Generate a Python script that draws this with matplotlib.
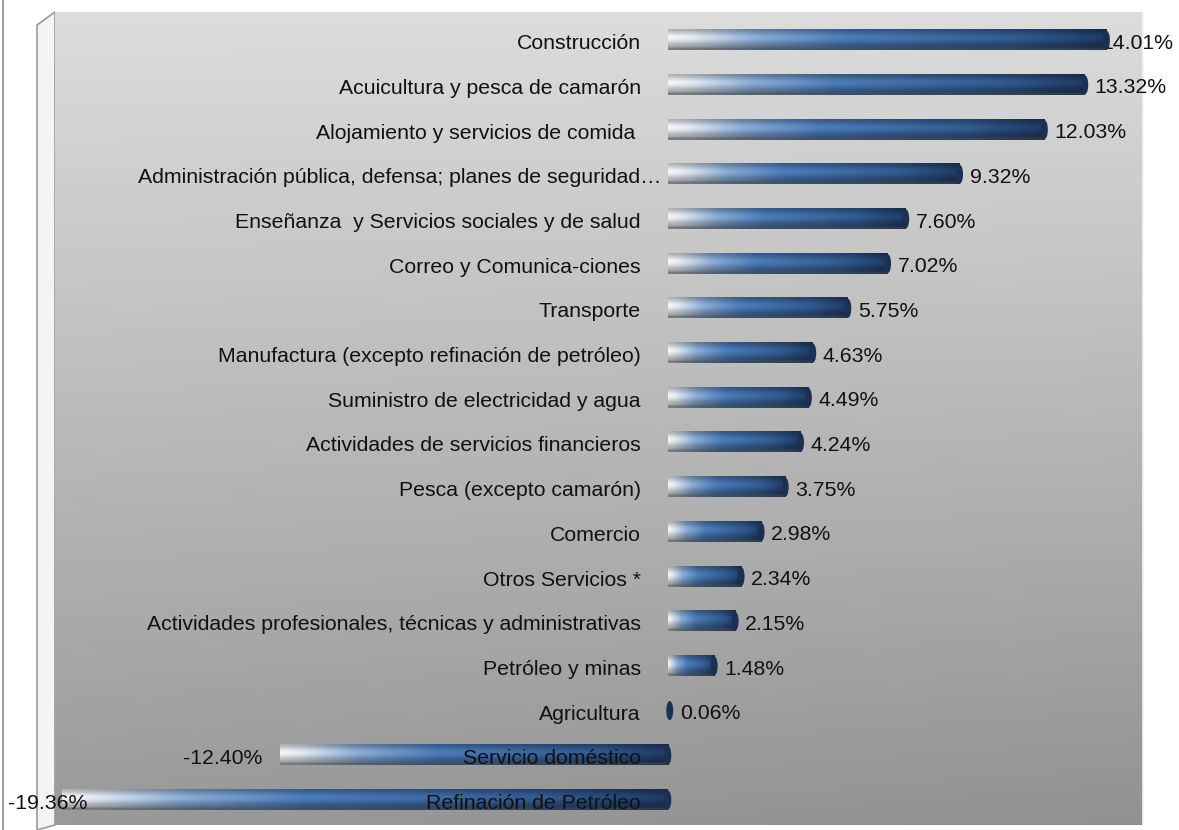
import numpy as np
import matplotlib.pyplot as plt
from matplotlib.colors import LinearSegmentedColormap
from matplotlib.patches import Polygon, Ellipse
from matplotlib.lines import Line2D

plt.rcParams['font.family'] = ['Liberation Sans', 'DejaVu Sans']

# ---- data (tasa de variacion por industria, %) ----
sectores = [
    'Construcción',
    'Acuicultura y pesca de camarón',
    'Alojamiento y servicios de comida ',
    'Administración pública, defensa; planes de seguridad…',
    'Enseñanza  y Servicios sociales y de salud',
    'Correo y Comunica-ciones',
    'Transporte',
    'Manufactura (excepto refinación de petróleo)',
    'Suministro de electricidad y agua',
    'Actividades de servicios financieros',
    'Pesca (excepto camarón)',
    'Comercio',
    'Otros Servicios *',
    'Actividades profesionales, técnicas y administrativas',
    'Petróleo y minas',
    'Agricultura',
    'Servicio doméstico',
    'Refinación de Petróleo',
]
valores = [14.01, 13.32, 12.03, 9.32, 7.60, 7.02, 5.75, 4.63, 4.49, 4.24,
           3.75, 2.98, 2.34, 2.15, 1.48, 0.06, -12.40, -19.36]
etiquetas = ['14.01%', '13.32%', '12.03%', '9.32%', '7.60%', '7.02%', '5.75%',
             '4.63%', '4.49%', '4.24%', '3.75%', '2.98%', '2.34%', '2.15%',
             '1.48%', '0.06%', '-12.40%', '-19.36%']

W, H = 1179, 830
fig = plt.figure(figsize=(W / 100, H / 100), dpi=100)
fig.patch.set_facecolor('white')

# panel (grey back wall) in pixels: x 55..1143, y 12..825
px0, px1, py0, py1 = 55, 1143, 12, 825
ax = fig.add_axes([px0 / W, 1 - py1 / H, (px1 - px0) / W, (py1 - py0) / H])

xmin, xmax = -19.58, 15.18
ymin, ymax = -0.63, 17.56
ax.set_xlim(xmin, xmax)
ax.set_ylim(ymax, ymin)
ax.axis('off')

# back wall gradient
gy = np.linspace(0, 1, 300)[:, None]
gx = np.linspace(0, 1, 300)[None, :]
wall = 0.865 - 0.295 * gy + 0.03 * (1 - gx) * gy
wall = np.dstack([wall, wall, wall])
ax.imshow(wall, extent=(xmin, xmax, ymax, ymin), aspect='auto', zorder=0,
          interpolation='bilinear')
ax.plot([xmax, xmax], [ymin, ymax], color='#f5f5f5', lw=1.2, zorder=1, clip_on=False)

# bar colouring: light -> blue along the bar, cylinder shading across it
cmap = LinearSegmentedColormap.from_list('barra', [
    (0.0, '#eeeeee'), (0.05, '#dde3ea'), (0.2, '#86a6cf'),
    (0.4, '#4a78b4'), (0.8, '#30578a'), (1.0, '#1f3861')])
cols = cmap(np.linspace(0, 1, 256))[:, :3]
v = np.linspace(0, 1, 24)[:, None, None]
shade = 0.68 + 0.36 * np.exp(-((v - 0.4) / 0.3) ** 2)
img = np.clip(cols[None, :, :] * shade, 0, 1)
# greyish lower rim
rim = np.exp(-((v - 0.96) / 0.07) ** 2)
img = np.clip(img * (1 - 0.55 * rim) + 0.3 * 0.55 * rim, 0, 1)

alto = 0.45
fs = 15.3
txt_color = '#111111'
valor_txt = []
for i, (val, lab, txt) in enumerate(zip(valores, sectores, etiquetas)):
    izq, der = min(0, val), max(0, val)
    if abs(val) >= 0.2:
        ax.imshow(img, extent=(izq, der, i + alto / 2, i - alto / 2),
                  aspect='auto', zorder=3, interpolation='bilinear')
    # dark rounded end of the cylinder
    ax.add_patch(Ellipse((der, i), 0.22, alto * 0.95, facecolor='#1c3052',
                         edgecolor='none', zorder=3.5))
    # truncated label ("…") runs a little further right
    xlab = -0.2 if lab.endswith('…') else -0.86
    ax.text(xlab, i + 0.08, lab, ha='right', va='center', fontsize=fs,
            color=txt_color, zorder=4)
    if val >= 0:
        t = ax.text(der + 0.32, i + 0.07, txt, ha='left', va='center',
                    fontsize=fs, color=txt_color, zorder=2.9, clip_on=False)
    else:
        t = ax.text(izq - 0.55, i + 0.07, txt, ha='right', va='center',
                    fontsize=fs, color=txt_color, zorder=4, clip_on=False)
    valor_txt.append(t)

# keep value labels inside the figure
fig.canvas.draw()
r = fig.canvas.get_renderer()
for t in valor_txt:
    bb = t.get_window_extent(r)
    dx = 0
    if bb.x0 < 8:
        dx = 8 - bb.x0
    elif bb.x1 > W - 6:
        dx = (W - 6) - bb.x1
    if dx:
        x_px, y_px = ax.transData.transform(t.get_position())
        t.set_position(ax.transData.inverted().transform((x_px + dx, y_px)))

# left side wall of the 3d frame and outer border line
side = Polygon([(37 / W, 1 - 25 / H), (55 / W, 1 - 12 / H), (55 / W, 1 - 825 / H),
                (37 / W, 1 - 830 / H)], closed=True, transform=fig.transFigure,
               facecolor='#f4f4f4', edgecolor='#9a9a9a', lw=1.2, zorder=-1)
fig.patches.append(side)
fig.lines.append(Line2D([3 / W, 3 / W], [0, 1], transform=fig.transFigure,
                        color='#8a8a8a', lw=1.2, zorder=-1))

fig.savefig('out.png', dpi=100)
